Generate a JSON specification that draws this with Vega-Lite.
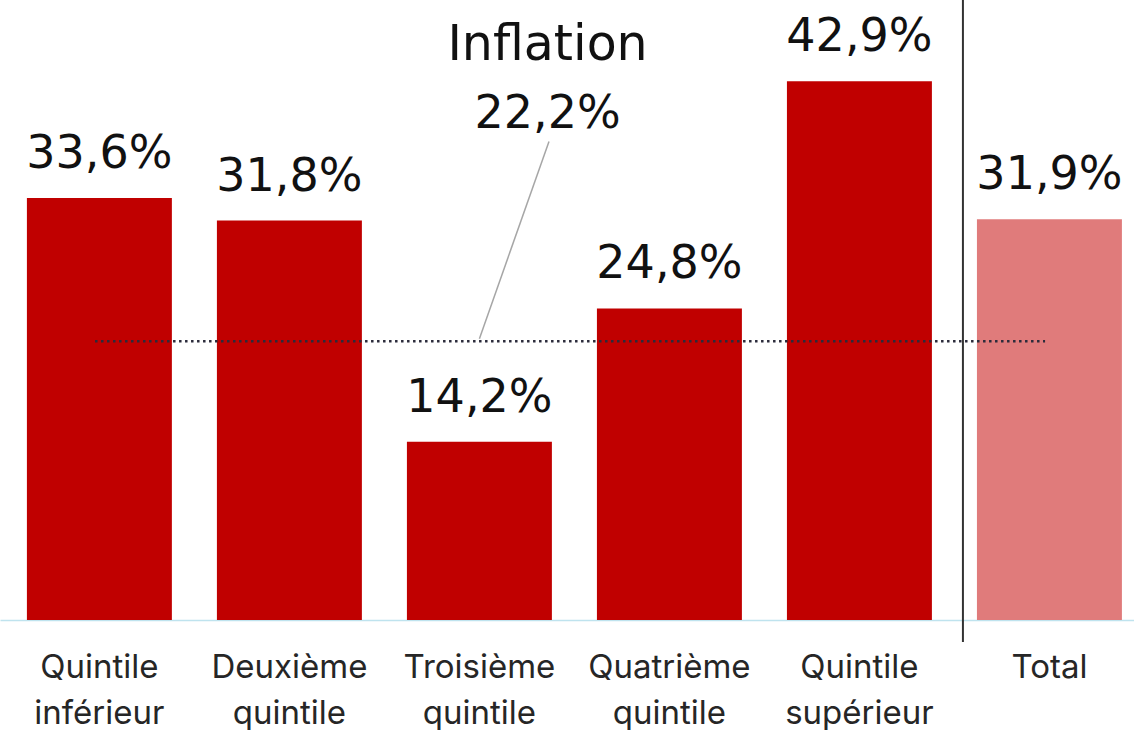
{
  "$schema": "https://vega.github.io/schema/vega-lite/v6.json",
  "width": 1134,
  "height": 620,
  "autosize": {"type": "none"},
  "padding": {"left": 0, "top": 0, "right": 0, "bottom": 110},
  "config": {
    "view": {"stroke": null},
    "font": "Inter",
    "locale": {"number": {"decimal": ",", "thousands": " ", "grouping": [3], "currency": ["", " €"]}}
  },
  "datasets": {
    "bars": [
      {"cat": "Quintile inférieur", "v": 0.336, "group": "quintile"},
      {"cat": "Deuxième quintile", "v": 0.318, "group": "quintile"},
      {"cat": "Troisième quintile", "v": 0.142, "group": "quintile"},
      {"cat": "Quatrième quintile", "v": 0.248, "group": "quintile"},
      {"cat": "Quintile supérieur", "v": 0.429, "group": "quintile"},
      {"cat": "Total", "v": 0.319, "group": "total"}
    ],
    "inflation": [{"v": 0.222, "name": "Inflation"}]
  },
  "layer": [
    {
      "data": {"name": "bars"},
      "mark": {"type": "bar"},
      "encoding": {
        "x": {
          "field": "cat", "type": "nominal", "sort": null,
          "scale": {
            "domain": ["Quintile inférieur", "Deuxième quintile", "Troisième quintile", "Quatrième quintile", "Quintile supérieur", "Total"],
            "paddingInner": 0.237, "paddingOuter": 0.1026, "align": 0.69
          },
          "axis": {
            "title": null, "labelAngle": 0, "ticks": false,
            "labelExpr": "split(datum.label, ' ')",
            "labelFont": "Inter", "labelFontSize": 33, "labelLineHeight": 46,
            "labelColor": "#262626", "labelBaseline": "alphabetic", "labelPadding": 57,
            "domainColor": "#bfe3ee", "domainWidth": 1.5
          }
        },
        "y": {"field": "v", "type": "quantitative", "scale": {"domain": [0, 0.4936], "nice": false}, "axis": null},
        "color": {"field": "group", "type": "nominal", "scale": {"domain": ["quintile", "total"], "range": ["#C00000", "#E07B7B"]}, "legend": null}
      }
    },
    {
      "data": {"name": "bars"},
      "mark": {"type": "text", "font": "DejaVu Sans", "fontSize": 46, "baseline": "alphabetic", "dy": -30, "color": "#111111"},
      "encoding": {
        "x": {"field": "cat", "type": "nominal"},
        "y": {"field": "v", "type": "quantitative"},
        "text": {"field": "v", "type": "quantitative", "format": ".1%"}
      }
    },
    {
      "data": {"name": "inflation"},
      "mark": {"type": "rule", "color": "#333333", "strokeWidth": 2},
      "encoding": {
        "x": {"datum": "Total", "type": "nominal", "bandPosition": -0.0966},
        "y": {"datum": 0.4936, "type": "quantitative"},
        "y2": {"datum": -0.0175}
      }
    },
    {
      "data": {"name": "inflation"},
      "mark": {"type": "rule", "color": "#2b2b3b", "strokeWidth": 2.5, "strokeDash": [2.5, 3.5]},
      "encoding": {
        "x": {"datum": "Quintile inférieur", "type": "nominal", "bandPosition": 0.47},
        "x2": {"datum": "Total", "bandPosition": 0.47},
        "y": {"field": "v", "type": "quantitative"}
      }
    },
    {
      "data": {"name": "inflation"},
      "mark": {"type": "rule", "color": "#a6a6a6", "strokeWidth": 1.5},
      "encoding": {
        "x": {"datum": "Troisième quintile", "type": "nominal", "bandPosition": 0.98},
        "x2": {"datum": "Troisième quintile", "bandPosition": 0.5},
        "y": {"datum": 0.381, "type": "quantitative"},
        "y2": {"datum": 0.224}
      }
    },
    {
      "data": {"name": "inflation"},
      "mark": {"type": "text", "font": "DejaVu Sans", "fontSize": 49, "baseline": "alphabetic", "color": "#111111"},
      "encoding": {
        "x": {"datum": "Troisième quintile", "type": "nominal", "bandPosition": 0.97},
        "y": {"datum": 0.4459, "type": "quantitative"},
        "text": {"field": "name"}
      }
    },
    {
      "data": {"name": "inflation"},
      "mark": {"type": "text", "font": "DejaVu Sans", "fontSize": 46, "baseline": "alphabetic", "color": "#111111"},
      "encoding": {
        "x": {"datum": "Troisième quintile", "type": "nominal", "bandPosition": 0.97},
        "y": {"datum": 0.3917, "type": "quantitative"},
        "text": {"field": "v", "type": "quantitative", "format": ".1%"}
      }
    }
  ]
}
